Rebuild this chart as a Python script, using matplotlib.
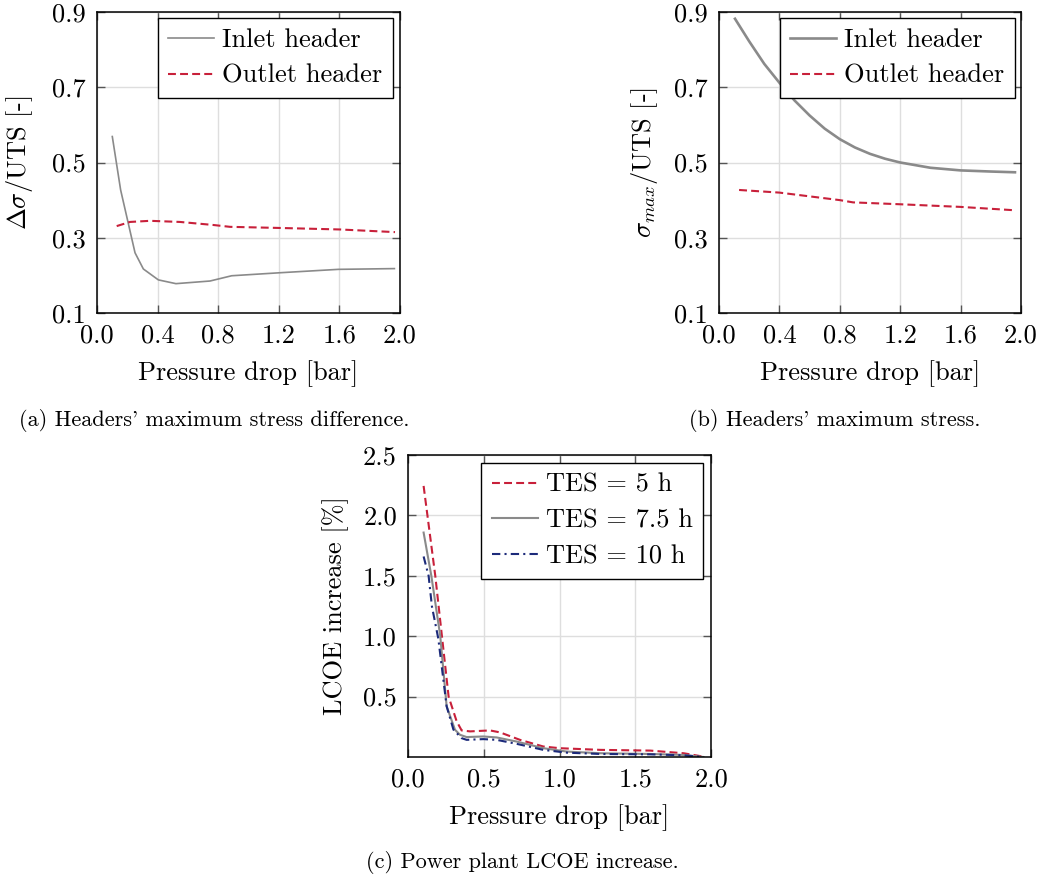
import matplotlib
matplotlib.use("Agg")
import matplotlib.pyplot as plt
from matplotlib.ticker import FormatStrFormatter

plt.rcParams['font.family'] = 'serif'
plt.rcParams['font.serif'] = ['cmr10']
plt.rcParams['mathtext.fontset'] = 'cm'
plt.rcParams['axes.formatter.use_mathtext'] = True

# (a) stress difference
a_in_x = [0.101, 0.156, 0.251, 0.306, 0.405, 0.521, 0.746, 0.889, 1.208, 1.593, 1.963]
a_in_y = [0.569, 0.427, 0.260, 0.217, 0.188, 0.178, 0.185, 0.199, 0.207, 0.216, 0.218]
a_out_x = [0.13, 0.218, 0.35, 0.548, 0.766, 0.878, 1.208, 1.604, 1.967]
a_out_y = [0.331, 0.342, 0.345, 0.342, 0.334, 0.329, 0.326, 0.322, 0.315]

# (b) max stress
b_in_x = [0.106, 0.2, 0.3, 0.4, 0.5, 0.6, 0.7, 0.8, 0.9, 1.0, 1.1, 1.2, 1.4, 1.6, 1.8, 1.96]
b_in_y = [0.882, 0.822, 0.762, 0.712, 0.665, 0.625, 0.590, 0.562, 0.540, 0.523, 0.510, 0.500,
          0.486, 0.479, 0.476, 0.474]
b_out_x = [0.133, 0.4, 0.8, 0.888, 1.2, 1.6, 1.96]
b_out_y = [0.427, 0.42, 0.40, 0.394, 0.389, 0.382, 0.373]

# (c) LCOE increase
c5_x = [0.103, 0.18, 0.224, 0.268, 0.321, 0.354, 0.41, 0.541, 0.607, 0.739, 0.893, 1.0, 1.27, 1.6, 1.82, 1.95]
c5_y = [2.244, 1.5, 1.0, 0.5, 0.296, 0.22, 0.212, 0.22, 0.204, 0.142, 0.087, 0.073, 0.059, 0.053, 0.031, 0.003]
c75_x = [0.103, 0.154, 0.213, 0.255, 0.31, 0.343, 0.387, 0.497, 0.585, 0.717, 0.893, 1.047, 1.27, 1.6, 1.82, 1.95]
c75_y = [1.858, 1.5, 1.0, 0.42, 0.226, 0.184, 0.165, 0.17, 0.162, 0.128, 0.073, 0.045, 0.031, 0.025, 0.017, 0.0]
c10_x = [0.103, 0.136, 0.158, 0.2, 0.255, 0.3, 0.354, 0.387, 0.497, 0.585, 0.717, 0.893, 1.047, 1.27, 1.6, 1.82, 1.95]
c10_y = [1.66, 1.5, 1.246, 0.98, 0.42, 0.226, 0.156, 0.142, 0.148, 0.142, 0.109, 0.059, 0.036, 0.025, 0.022, 0.014, 0.0]

RED = '#c8203a'
GRAY = '#8a8a8a'
BLUE = '#1c2a7a'
FS = 19

W, H = 1043, 882
fig = plt.figure(figsize=(W / 100, H / 100), dpi=100)


def box(l, t, r, b):
    return [l / W, 1 - b / H, (r - l) / W, (b - t) / H]


def style(ax):
    ax.grid(True, color='#dedede', lw=1)
    ax.set_axisbelow(True)
    ax.tick_params(direction='in', top=True, right=True, length=6, width=1,
                   color='#555555', labelsize=FS, pad=8)
    for s in ax.spines.values():
        s.set_linewidth(1.1)


def legend(ax, anchor):
    leg = ax.legend(loc='upper right', bbox_to_anchor=anchor, fontsize=FS,
                    fancybox=False, edgecolor='black', framealpha=1,
                    handlelength=1.75, labelspacing=0.45, borderpad=0.4,
                    handletextpad=0.3, borderaxespad=0)
    leg.get_frame().set_linewidth(1)


# (a)
ax = fig.add_axes(box(97, 12, 400, 313))
ax.plot(a_in_x, a_in_y, color=GRAY, lw=1.2, label='Inlet header')
ax.plot(a_out_x, a_out_y, color=RED, lw=1.5, dashes=(3.8, 2), label='Outlet header')
ax.set_xlim(0, 2)
ax.set_ylim(0.1, 0.9)
ax.set_xticks([0.0, 0.4, 0.8, 1.2, 1.6, 2.0])
ax.set_yticks([0.1, 0.3, 0.5, 0.7, 0.9])
ax.xaxis.set_major_formatter(FormatStrFormatter('%.1f'))
ax.yaxis.set_major_formatter(FormatStrFormatter('%.1f'))
style(ax)
ax.set_xlabel('Pressure drop [bar]', fontsize=FS, labelpad=9)
ax.set_ylabel(r'$\Delta\sigma$/UTS [-]', fontsize=FS, labelpad=12)
legend(ax, (0.977, 0.98))

# (b)
ax = fig.add_axes(box(719, 12, 1021, 313))
ax.plot(b_in_x, b_in_y, color=GRAY, lw=1.9, label='Inlet header')
ax.plot(b_out_x, b_out_y, color=RED, lw=1.5, dashes=(3.8, 2), label='Outlet header')
ax.set_xlim(0, 2)
ax.set_ylim(0.1, 0.9)
ax.set_xticks([0.0, 0.4, 0.8, 1.2, 1.6, 2.0])
ax.set_yticks([0.1, 0.3, 0.5, 0.7, 0.9])
ax.xaxis.set_major_formatter(FormatStrFormatter('%.1f'))
ax.yaxis.set_major_formatter(FormatStrFormatter('%.1f'))
style(ax)
ax.set_xlabel('Pressure drop [bar]', fontsize=FS, labelpad=9)
ax.set_ylabel(r'$\sigma_{max}$/UTS [-]', fontsize=FS, labelpad=10)
legend(ax, (0.98, 0.98))

# (c)
ax = fig.add_axes(box(408, 455, 711, 757))
ax.plot(c5_x, c5_y, color=RED, lw=1.5, dashes=(3.8, 2), label='TES = 5 h')
ax.plot(c75_x, c75_y, color=GRAY, lw=1.5, label='TES = 7.5 h')
ax.plot(c10_x, c10_y, color=BLUE, lw=1.5, dashes=(4, 2, 1, 2), label='TES = 10 h')
ax.set_xlim(0, 2)
ax.set_ylim(0, 2.5)
ax.set_xticks([0.0, 0.5, 1.0, 1.5, 2.0])
ax.set_yticks([0.5, 1.0, 1.5, 2.0, 2.5])
ax.xaxis.set_major_formatter(FormatStrFormatter('%.1f'))
ax.yaxis.set_major_formatter(FormatStrFormatter('%.1f'))
style(ax)
ax.set_xlabel('Pressure drop [bar]', fontsize=FS, labelpad=9)
ax.set_ylabel('LCOE increase [%]', fontsize=FS, labelpad=10)
legend(ax, (0.975, 0.975))

# captions
fig.text(214 / W, 1 - 420 / H, "(a) Headers' maximum stress difference.", ha='center', va='center', fontsize=16)
fig.text(835 / W, 1 - 420 / H, "(b) Headers' maximum stress.", ha='center', va='center', fontsize=16)
fig.text(522 / W, 1 - 862 / H, "(c) Power plant LCOE increase.", ha='center', va='center', fontsize=16)

fig.savefig('out.png', dpi=100)
